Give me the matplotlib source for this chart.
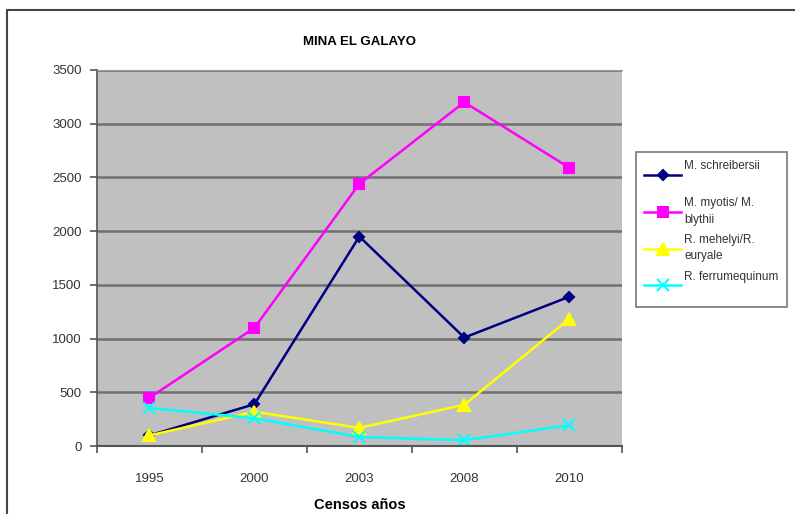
import matplotlib
matplotlib.use("Agg")
import matplotlib.pyplot as plt
from matplotlib.patches import Rectangle

# --- data ---
years = ["1995", "2000", "2003", "2008", "2010"]
schreibersii = [100, 390, 1950, 1010, 1390]
myotis_blythii = [450, 1100, 2440, 3200, 2590]
mehelyi_euryale = [100, 320, 170, 385, 1185]
ferrumequinum = [355, 260, 85, 55, 195]

labels = ["M. schreibersii\n ", "M. myotis/ M.\nblythii",
          "R. mehelyi/R.\neuryale", "R. ferrumequinum\n "]

plt.rcParams['font.family'] = ['Liberation Sans', 'DejaVu Sans']

fig = plt.figure(figsize=(7.95, 5.14), dpi=100)
ax = fig.add_axes([0.122, 0.132, 0.660, 0.732])
ax.set_facecolor('#c0c0c0')

x = list(range(len(years)))
series = [
    (schreibersii, '#000080', 'D', 5),
    (myotis_blythii, '#ff00ff', 's', 7),
    (mehelyi_euryale, '#ffff00', '^', 8),
    (ferrumequinum, '#00ffff', 'x', 8),
]
handles = []
for vals, col, mk, ms in series:
    h, = ax.plot(x, vals, color=col, marker=mk, markersize=ms, linewidth=1.8,
                 markeredgewidth=1.5, markeredgecolor=col, markerfacecolor=col)
    handles.append(h)

ax.set_xlim(-0.5, len(years) - 0.5)
ax.set_ylim(0, 3500)
ax.set_yticks(range(0, 3501, 500))
ax.yaxis.grid(True, color='#707070', linewidth=1.8)
ax.set_axisbelow(True)

ax.set_xticks(x)
ax.set_xticklabels(years)
ax.set_xticks([i - 0.5 for i in range(len(years) + 1)], minor=True)
ax.tick_params(axis='x', which='major', length=0, pad=19, labelsize=9.5, colors='#333333')
ax.tick_params(axis='x', which='minor', length=5, width=1.2, color='#555555')
ax.tick_params(axis='y', length=5, width=1.2, color='#555555', labelsize=9.5,
               labelcolor='#333333', pad=6)

ax.spines['right'].set_visible(False)
ax.spines['top'].set_color('#999999')
ax.spines['left'].set_color('#555555')
ax.spines['bottom'].set_color('#555555')
ax.spines['left'].set_linewidth(1.2)
ax.spines['bottom'].set_linewidth(1.5)

ax.set_title("MINA EL GALAYO", fontsize=9.5, fontweight='bold', pad=18)
ax.set_xlabel("Censos años", fontsize=10.5, fontweight='bold', labelpad=10)

leg = fig.legend(handles, labels, loc='upper left', bbox_to_anchor=(0.800, 0.704),
                 fontsize=8.5, frameon=True, fancybox=False, handlelength=3.1,
                 handletextpad=0.3, borderpad=0.7, labelspacing=0.7,
                 borderaxespad=0, labelcolor='#333333')
for t in leg.get_texts():
    t.set_linespacing(1.5)
leg.get_frame().set_edgecolor('#555555')
leg.get_frame().set_linewidth(1.2)

# outer chart frame
fig.patches.append(Rectangle((0.009, -0.2), 1.2, 1.18, transform=fig.transFigure,
                             fill=False, edgecolor='#444444', linewidth=1.5))

fig.savefig("out.png", dpi=100)
